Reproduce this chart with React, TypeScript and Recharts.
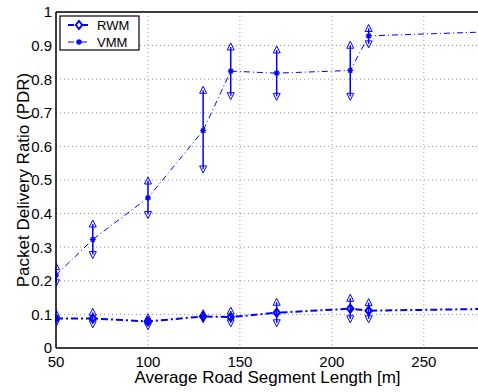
import {
  ComposedChart,
  Line,
  Scatter,
  XAxis,
  YAxis,
  CartesianGrid,
  ErrorBar,
  ReferenceLine,
} from "recharts";

// segment lengths [m]
const xs = [50, 70, 100, 130, 145, 170, 210, 220];
const xEnd = 280;

const vmmMean = [0.217, 0.323, 0.447, 0.647, 0.824, 0.818, 0.826, 0.929];
const vmmLow = [0.194, 0.278, 0.397, 0.533, 0.751, 0.749, 0.749, 0.905];
const vmmHigh = [0.242, 0.369, 0.497, 0.767, 0.896, 0.887, 0.901, 0.951];
const vmmEnd = 0.94;

const rwmMean = [0.088, 0.088, 0.079, 0.094, 0.092, 0.105, 0.117, 0.111];
const rwmLow = [0.075, 0.072, 0.066, 0.087, 0.075, 0.075, 0.087, 0.087];
const rwmHigh = [0.103, 0.106, 0.09, 0.102, 0.11, 0.136, 0.148, 0.135];
const rwmEnd = 0.116;

const xTicks = [50, 100, 150, 200, 250];
const yTicks = [0, 0.1, 0.2, 0.3, 0.4, 0.5, 0.6, 0.7, 0.8, 0.9, 1];

const BLUE = "#0000ff";
const FONT = "'Liberation Sans', Arial, sans-serif";

const table = [
  ...xs.map((x, i) => ({
    x,
    vmm: vmmMean[i],
    rwm: rwmMean[i],
    vmmErr: [vmmMean[i] - vmmLow[i], vmmHigh[i] - vmmMean[i]],
    rwmErr: [rwmMean[i] - rwmLow[i], rwmHigh[i] - rwmMean[i]],
    end: false,
  })),
  { x: xEnd, vmm: vmmEnd, rwm: rwmEnd, vmmErr: [0, 0], rwmErr: [0, 0], end: true },
];

const vmmUp = xs.map((x, i) => ({ x, y: vmmHigh[i] }));
const vmmDown = xs.map((x, i) => ({ x, y: vmmLow[i] }));
const rwmUp = xs.map((x, i) => ({ x, y: rwmHigh[i] }));
const rwmDown = xs.map((x, i) => ({ x, y: rwmLow[i] }));

const UpTri = (p: any) => {
  const { cx, cy } = p;
  return (
    <polygon
      points={`${cx},${cy - 4} ${cx - 3.5},${cy + 3} ${cx + 3.5},${cy + 3}`}
      fill="none"
      stroke={BLUE}
      strokeWidth={1}
    />
  );
};

const DownTri = (p: any) => {
  const { cx, cy } = p;
  return (
    <polygon
      points={`${cx},${cy + 4} ${cx - 3.5},${cy - 3} ${cx + 3.5},${cy - 3}`}
      fill="none"
      stroke={BLUE}
      strokeWidth={1}
    />
  );
};

const starPath = (cx: number, cy: number, r: number) =>
  `M${cx - r},${cy}L${cx + r},${cy}M${cx},${cy - r}L${cx},${cy + r}` +
  `M${cx - r * 0.7},${cy - r * 0.7}L${cx + r * 0.7},${cy + r * 0.7}` +
  `M${cx - r * 0.7},${cy + r * 0.7}L${cx + r * 0.7},${cy - r * 0.7}`;

const diamondPath = (cx: number, cy: number, r: number) =>
  `M${cx},${cy - r}L${cx + r * 0.8},${cy}L${cx},${cy + r}L${cx - r * 0.8},${cy}Z`;

const StarDot = (p: any) => {
  const { cx, cy, payload, index } = p;
  if (payload?.end) return <g key={`s${index}`} />;
  return (
    <path key={`s${index}`} d={starPath(cx, cy, 3)} stroke={BLUE} strokeWidth={1.3} fill="none" />
  );
};

const DiamondDot = (p: any) => {
  const { cx, cy, payload, index } = p;
  if (payload?.end) return <g key={`d${index}`} />;
  return (
    <path key={`d${index}`} d={diamondPath(cx, cy, 4)} stroke={BLUE} strokeWidth={2} fill="none" />
  );
};

function Legend() {
  return (
    <svg
      width={82}
      height={36}
      style={{ position: "absolute", left: 59, top: 15 }}
    >
      <rect x={1} y={1} width={79} height={34} fill="#fff" stroke="#000" strokeWidth={1.2} />
      <line x1={9} y1={10} x2={31} y2={10} stroke={BLUE} strokeWidth={2} strokeDasharray="6 3 2 3" />
      <path d={diamondPath(20, 10, 4)} stroke={BLUE} strokeWidth={2} fill="#fff" />
      <text x={38} y={14.5} fontSize={13} fontFamily={FONT} fill="#000">RWM</text>
      <line x1={9} y1={27} x2={31} y2={27} stroke={BLUE} strokeWidth={1} strokeDasharray="6 3 1 3" />
      <path d={starPath(20, 27, 3)} stroke={BLUE} strokeWidth={1.3} fill="none" />
      <text x={38} y={31.5} fontSize={13} fontFamily={FONT} fill="#000">VMM</text>
    </svg>
  );
}

export default function App() {
  return (
    <div style={{ position: "relative", width: 478, height: 392, overflow: "hidden", background: "#fff" }}>
      <style>{`body{margin:0;overflow:hidden}`}</style>
      <ComposedChart
        width={490}
        height={392}
        data={table}
        margin={{ top: 12, right: 11, left: 0, bottom: 0 }}
        style={{ fontFamily: FONT }}
      >
        <CartesianGrid stroke="#999" strokeDasharray="1 3" />
        <XAxis
          dataKey="x"
          type="number"
          domain={[50, 280]}
          ticks={xTicks}
          allowDataOverflow
          height={44}
          tickLine={false}
          tick={{ fill: "#000", fontSize: 15 }}
          axisLine={{ stroke: "#000", strokeWidth: 1.5 }}
          label={{ value: "Average Road Segment Length [m]", position: "center", dy: 7, fill: "#000", fontSize: 17 }}
        />
        <YAxis
          type="number"
          domain={[0, 1]}
          ticks={yTicks}
          width={56}
          tickLine={false}
          tickSize={4}
          tickMargin={0}
          tick={{ fill: "#000", fontSize: 15 }}
          axisLine={{ stroke: "#000", strokeWidth: 1.5 }}
          label={{ value: "Packet Delivery Ratio (PDR)", position: "center", angle: -90, dx: -5, fill: "#000", fontSize: 17 }}
        />
        <ReferenceLine y={1} stroke="#000" strokeWidth={1.5} />
        <Line
          dataKey="vmm"
          stroke={BLUE}
          strokeWidth={1}
          strokeDasharray="6 3 1 3"
          dot={StarDot}
          isAnimationActive={false}
        >
          <ErrorBar dataKey="vmmErr" width={0} stroke={BLUE} strokeWidth={1.5} isAnimationActive={false} />
        </Line>
        <Line
          dataKey="rwm"
          stroke={BLUE}
          strokeWidth={2}
          strokeDasharray="7 3 2 3"
          dot={DiamondDot}
          isAnimationActive={false}
        >
          <ErrorBar dataKey="rwmErr" width={0} stroke={BLUE} strokeWidth={1.5} isAnimationActive={false} />
        </Line>
        <Scatter data={vmmUp} dataKey="y" shape={UpTri} isAnimationActive={false} />
        <Scatter data={vmmDown} dataKey="y" shape={DownTri} isAnimationActive={false} />
        <Scatter data={rwmUp} dataKey="y" shape={UpTri} isAnimationActive={false} />
        <Scatter data={rwmDown} dataKey="y" shape={DownTri} isAnimationActive={false} />
      </ComposedChart>
      <Legend />
    </div>
  );
}
